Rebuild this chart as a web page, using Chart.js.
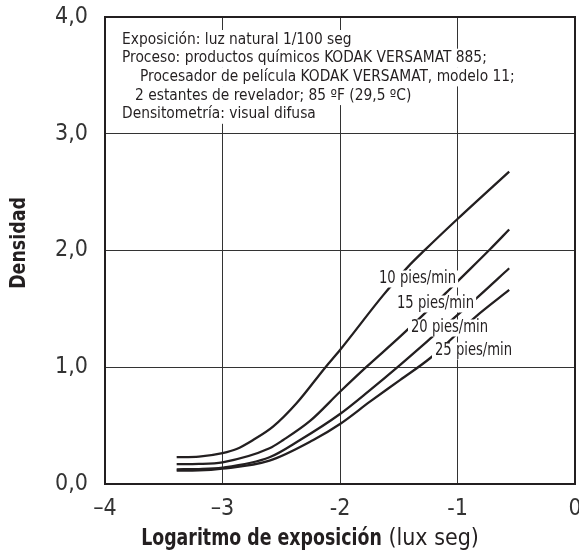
<!DOCTYPE html>
<html>
<head>
<meta charset="utf-8">
<script src="https://cdn.jsdelivr.net/npm/chart.js@4.4.1/dist/chart.umd.min.js"></script>
<style>
  html, body { margin: 0; padding: 0; background: #fff; }
  #wrap { width: 579px; height: 556px; position: relative; }
</style>
</head>
<body>
<div id="wrap"><canvas id="c" width="579" height="556"></canvas></div>
<script>
// ---- Data ----
const logE10 = [-3.39, -3.2, -3.0, -2.88, -2.74, -2.57, -2.37, -2.12, -2.0, -1.63, -1.42, -1.277, -1.0, -0.56];
const dens10 = [0.23, 0.235, 0.265, 0.30, 0.377, 0.491, 0.691, 1.005, 1.148, 1.62, 1.862, 2.005, 2.27, 2.676];

const logE15 = [-3.39, -3.2, -3.0, -2.6, -2.483, -2.255, -2.0, -1.773, -1.489, -1.1, -0.98, -0.723, -0.56];
const dens15 = [0.17, 0.172, 0.186, 0.306, 0.377, 0.54, 0.79, 1.005, 1.262, 1.635, 1.755, 2.011, 2.18];

const logE20 = [-3.39, -3.2, -3.0, -2.6, -2.34, -2.0, -1.75, -1.5, -1.26, -0.84, -0.56];
const dens20 = [0.126, 0.128, 0.14, 0.229, 0.377, 0.60, 0.80, 1.01, 1.22, 1.59, 1.848];

const logE25 = [-3.39, -3.2, -3.0, -2.6, -2.227, -2.0, -1.745, -1.49, -1.234, -0.851, -0.56];
const dens25 = [0.114, 0.116, 0.131, 0.20, 0.377, 0.514, 0.705, 0.89, 1.077, 1.428, 1.662];

const seriesNames = ["10 pies/min", "15 pies/min", "20 pies/min", "25 pies/min"];
const xTickValues = [-4, -3, -2, -1, 0];
const xTickLabels = ["\u20134", "\u20133", "-2", "-1", "0"];
const yTickValues = [0, 1, 2, 3, 4];
const yTickLabels = ["0,0", "1,0", "2,0", "3,0", "4,0"];

const noteLines = [
  "Exposici\u00f3n: luz natural 1/100 seg",
  "Proceso: productos qu\u00edmicos KODAK VERSAMAT 885;",
  "Procesador de pel\u00edcula KODAK VERSAMAT, modelo 11;",
  "2 estantes de revelador; 85 \u00baF (29,5 \u00baC)",
  "Densitometr\u00eda: visual difusa"
];
const xTitleBold = "Logaritmo de exposici\u00f3n";
const xTitleNormal = " (lux seg)";
const yTitle = "Densidad";

// ---- Styling ----
const FONT = '"Liberation Sans Narrow", "DejaVu Sans Condensed", "Roboto Condensed", "Arial Narrow", sans-serif';
const INK = '#231f20';

function pts(xs, ys) { return xs.map((x, i) => ({ x: x, y: ys[i] })); }
const seriesData = [pts(logE10, dens10), pts(logE15, dens15), pts(logE20, dens20), pts(logE25, dens25)];

function squeezeText(ctx, t, x, y, sx) {
  ctx.save();
  ctx.translate(x, y);
  ctx.scale(sx, 1);
  ctx.fillText(t, 0, 0);
  ctx.restore();
  return ctx.measureText(t).width * sx;
}

const decor = {
  id: 'decor',
  afterDatasetsDraw(chart) {
    const ctx = chart.ctx;
    const a = chart.chartArea;
    ctx.save();
    // frame
    ctx.strokeStyle = INK;
    ctx.lineWidth = 2;
    ctx.strokeRect(a.left, a.top, a.right - a.left, a.bottom - a.top);

    // note box lines (white backing per line)
    const noteSX = 0.96;
    ctx.font = '16px ' + FONT;
    ctx.textBaseline = 'middle';
    ctx.textAlign = 'left';
    const noteX = [a.left + 17, a.left + 17, a.left + 35, a.left + 30, a.left + 17];
    const noteY0 = a.top + 22.5, noteDY = 18.7;
    noteLines.forEach((t, i) => {
      const w = ctx.measureText(t).width * noteSX;
      const y = noteY0 + i * noteDY;
      ctx.fillStyle = '#fff';
      ctx.fillRect(noteX[i] - 2, y - 9.5, w + 4, 19);
    });
    ctx.fillStyle = INK;
    noteLines.forEach((t, i) => {
      squeezeText(ctx, t, noteX[i], noteY0 + i * noteDY, noteSX);
    });

    // curve labels
    const labSX = 0.86;
    ctx.font = '17px ' + FONT;
    const labX = [379, 397, 411, 435];
    const labY = [279, 304, 328, 351];
    seriesNames.forEach((t, i) => {
      const w = ctx.measureText(t).width * labSX;
      ctx.fillStyle = '#fff';
      ctx.fillRect(labX[i] - 3, labY[i] - 8.5, w + 5, 17);
      ctx.fillStyle = INK;
      squeezeText(ctx, t, labX[i], labY[i], labSX);
    });

    // x title
    const boldSX = 0.84;
    ctx.textBaseline = 'middle';
    ctx.font = 'bold 23px ' + FONT;
    const wb = ctx.measureText(xTitleBold).width * boldSX;
    ctx.font = '23px ' + FONT;
    const wn = ctx.measureText(xTitleNormal).width;
    const tx = 310 - (wb + wn) / 2;
    const ty = 539;
    ctx.font = 'bold 23px ' + FONT;
    squeezeText(ctx, xTitleBold, tx, ty, boldSX);
    ctx.font = '23px ' + FONT;
    ctx.fillText(xTitleNormal, tx + wb, ty);

    // y title
    ctx.save();
    ctx.translate(19, 243);
    ctx.rotate(-Math.PI / 2);
    ctx.scale(0.88, 1);
    ctx.textAlign = 'center';
    ctx.font = 'bold 22px ' + FONT;
    ctx.fillText(yTitle, 0, 0);
    ctx.restore();
    ctx.restore();
  }
};

function noPad(s) { s.paddingLeft = 0; s.paddingRight = 0; s.paddingTop = 0; s.paddingBottom = 0; }

const chart = new Chart(document.getElementById('c'), {
  type: 'line',
  data: {
    datasets: seriesData.map((d, i) => ({
      label: seriesNames[i],
      data: d,
      borderColor: INK,
      borderWidth: 2.3,
      pointRadius: 0,
      fill: false,
      cubicInterpolationMode: 'monotone'
    }))
  },
  options: {
    responsive: false,
    animation: false,
    layout: { padding: { top: 17, right: 4, left: 0, bottom: 0 } },
    plugins: { legend: { display: false }, tooltip: { enabled: false }, title: { display: false } },
    scales: {
      x: {
        type: 'linear', min: -4, max: 0,
        afterBuildTicks: s => { s.ticks = xTickValues.map(v => ({ value: v })); },
        afterFit: s => { s.height = 72; noPad(s); },
        ticks: {
          callback: (v) => xTickLabels[xTickValues.indexOf(v)],
          color: '#333', font: { family: FONT, size: 23 }, padding: 11, maxRotation: 0, autoSkip: false
        },
        grid: { color: '#333', lineWidth: 1, drawTicks: false },
        border: { display: true, color: INK, width: 2 }
      },
      y: {
        type: 'linear', min: 0, max: 4,
        afterBuildTicks: s => { s.ticks = yTickValues.map(v => ({ value: v })); },
        afterFit: s => { s.width = 105; noPad(s); },
        ticks: {
          callback: (v) => yTickLabels[yTickValues.indexOf(v)],
          color: '#333', font: { family: FONT, size: 23 }, padding: 17, autoSkip: false
        },
        grid: { color: '#333', lineWidth: 1, drawTicks: false },
        border: { display: true, color: INK, width: 2 }
      }
    }
  },
  plugins: [decor]
});
</script>
</body>
</html>
